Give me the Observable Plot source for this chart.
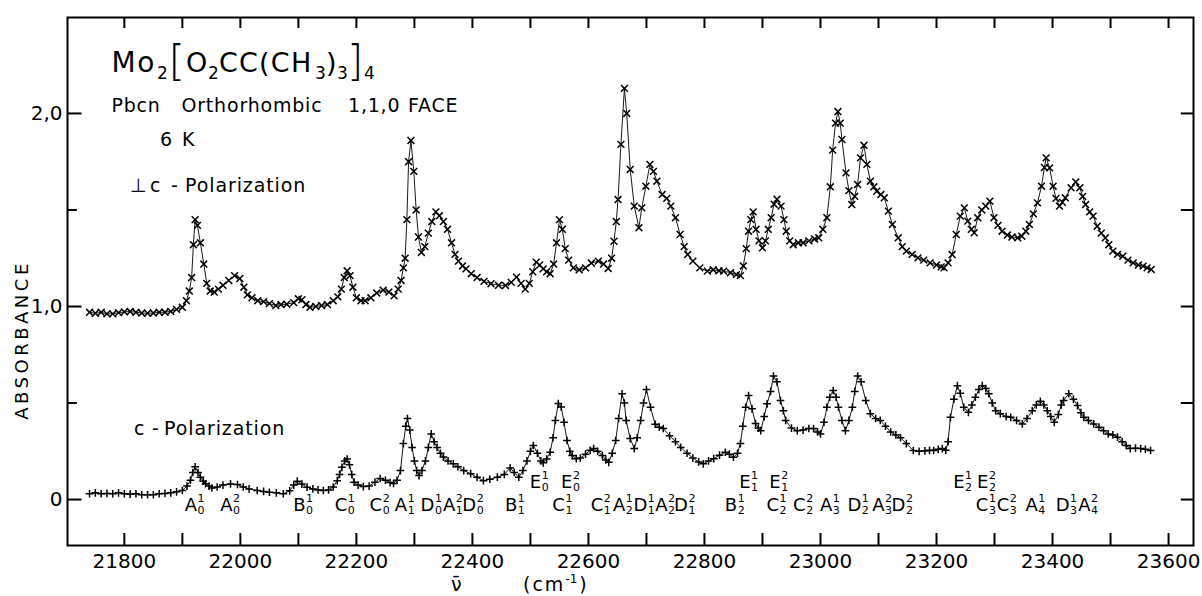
<!DOCTYPE html>
<html><head><meta charset="utf-8">
<script src="https://cdn.jsdelivr.net/npm/d3@7"></script>
<script src="https://cdn.jsdelivr.net/npm/@observablehq/plot@0.6"></script>
<style>html,body{margin:0;padding:0;background:#fff;} svg{display:block}</style>
</head><body><div id="chart"></div>
<script>
// ⊥c-polarization spectrum: [wavenumber cm-1, absorbance]
const perpSpectrum = [
[21740,0.970],[21750,0.965],[21760,0.970],[21770,0.962],[21780,0.962],[21790,0.968],[21800,0.972],[21810,0.974],[21820,0.970],[21830,0.966],
[21840,0.965],[21850,0.966],[21860,0.970],[21870,0.970],[21880,0.975],[21890,0.985],[21900,0.996],[21907,1.030],[21912,1.080],[21916,1.150],
[21919,1.320],[21922,1.450],[21926,1.420],[21931,1.330],[21937,1.220],[21942,1.120],[21948,1.080],[21955,1.075],[21962,1.090],[21970,1.110],
[21980,1.135],[21990,1.160],[21999,1.145],[22006,1.100],[22012,1.060],[22020,1.045],[22030,1.030],[22040,1.025],[22050,1.015],[22061,1.005],
[22070,1.010],[22080,1.012],[22092,1.020],[22100,1.040],[22106,1.035],[22113,1.010],[22120,0.996],[22130,1.000],[22140,1.005],[22150,1.010],
[22160,1.030],[22168,1.050],[22174,1.090],[22179,1.150],[22184,1.185],[22189,1.160],[22194,1.100],[22200,1.045],[22208,1.030],[22215,1.030],
[22225,1.045],[22235,1.070],[22246,1.085],[22256,1.075],[22265,1.055],[22272,1.090],[22277,1.135],[22281,1.200],[22284,1.250],[22287,1.450],
[22290,1.750],[22294,1.860],[22299,1.700],[22303,1.500],[22307,1.360],[22312,1.280],[22318,1.310],[22324,1.380],[22330,1.440],[22337,1.490],
[22343,1.470],[22350,1.440],[22357,1.400],[22364,1.330],[22370,1.270],[22376,1.235],[22383,1.210],[22389,1.195],[22398,1.170],[22408,1.150],
[22420,1.130],[22432,1.118],[22445,1.110],[22457,1.109],[22467,1.125],[22476,1.152],[22484,1.120],[22491,1.090],[22498,1.120],[22504,1.180],
[22510,1.230],[22516,1.215],[22522,1.195],[22528,1.180],[22534,1.170],[22540,1.220],[22545,1.330],[22550,1.450],[22555,1.400],[22560,1.300],
[22566,1.240],[22574,1.200],[22584,1.190],[22595,1.200],[22605,1.225],[22617,1.235],[22626,1.220],[22634,1.197],[22640,1.250],[22644,1.338],
[22648,1.440],[22651,1.554],[22656,1.840],[22662,2.130],[22666,2.000],[22672,1.710],[22679,1.520],[22687,1.408],[22692,1.511],[22699,1.623],
[22706,1.736],[22712,1.700],[22718,1.649],[22727,1.580],[22735,1.560],[22742,1.520],[22750,1.460],[22758,1.373],[22765,1.310],[22771,1.269],
[22780,1.235],[22792,1.200],[22805,1.183],[22815,1.190],[22825,1.185],[22833,1.183],[22845,1.175],[22855,1.165],[22862,1.160],[22867,1.210],
[22872,1.300],[22876,1.390],[22880,1.450],[22884,1.490],[22889,1.400],[22894,1.340],[22900,1.304],[22905,1.340],[22910,1.400],[22915,1.460],
[22920,1.530],[22925,1.556],[22932,1.520],[22937,1.450],[22941,1.390],[22947,1.340],[22953,1.320],[22962,1.330],[22970,1.330],[22980,1.340],
[22990,1.350],[22997,1.356],[23004,1.400],[23011,1.460],[23017,1.620],[23021,1.810],[23026,1.950],[23030,2.010],[23034,1.950],[23037,1.865],
[23044,1.692],[23049,1.600],[23054,1.528],[23059,1.571],[23064,1.632],[23069,1.770],[23075,1.835],[23080,1.736],[23086,1.649],[23092,1.620],
[23097,1.597],[23104,1.580],[23110,1.563],[23117,1.494],[23124,1.425],[23134,1.356],[23141,1.310],[23148,1.287],[23158,1.270],[23168,1.252],
[23178,1.240],[23189,1.226],[23200,1.215],[23208,1.205],[23213,1.200],[23220,1.226],[23227,1.269],[23234,1.373],[23241,1.468],[23248,1.511],
[23254,1.442],[23260,1.400],[23265,1.382],[23271,1.460],[23278,1.500],[23285,1.520],[23292,1.546],[23299,1.460],[23306,1.420],[23313,1.390],
[23322,1.370],[23330,1.360],[23340,1.356],[23347,1.364],[23354,1.390],[23360,1.425],[23367,1.480],[23374,1.537],[23381,1.623],[23386,1.720],
[23389,1.770],[23395,1.718],[23401,1.623],[23406,1.560],[23412,1.520],[23417,1.540],[23422,1.563],[23432,1.615],[23440,1.645],[23447,1.615],
[23452,1.570],[23457,1.528],[23464,1.490],[23470,1.468],[23477,1.416],[23484,1.380],[23491,1.356],[23497,1.320],[23504,1.287],[23512,1.270],
[23521,1.260],[23530,1.240],[23539,1.226],[23548,1.215],[23556,1.209],[23563,1.200],[23570,1.192]
];

// c-polarization spectrum: [wavenumber cm-1, absorbance]
const parSpectrum = [
[21740,0.030],[21750,0.035],[21760,0.030],[21770,0.032],[21780,0.030],[21790,0.035],[21800,0.030],[21810,0.028],[21820,0.030],[21830,0.025],
[21840,0.025],[21850,0.025],[21860,0.030],[21870,0.032],[21880,0.035],[21890,0.040],[21900,0.047],[21908,0.070],[21914,0.100],[21918,0.140],
[21922,0.170],[21927,0.140],[21931,0.116],[21936,0.095],[21940,0.082],[21946,0.070],[21951,0.060],[21960,0.065],[21970,0.075],[21983,0.081],
[21995,0.078],[22005,0.065],[22015,0.055],[22029,0.047],[22040,0.042],[22050,0.038],[22062,0.035],[22074,0.030],[22085,0.045],[22092,0.075],
[22098,0.095],[22106,0.080],[22115,0.064],[22125,0.055],[22134,0.050],[22143,0.047],[22152,0.050],[22160,0.065],[22167,0.098],[22171,0.130],
[22175,0.167],[22180,0.200],[22184,0.210],[22188,0.180],[22192,0.130],[22196,0.090],[22203,0.075],[22212,0.067],[22222,0.070],[22232,0.090],
[22241,0.109],[22250,0.100],[22258,0.088],[22264,0.083],[22270,0.100],[22276,0.150],[22281,0.290],[22285,0.380],[22288,0.420],[22292,0.360],
[22296,0.270],[22300,0.200],[22304,0.150],[22308,0.124],[22313,0.150],[22319,0.200],[22324,0.270],[22329,0.340],[22334,0.300],[22339,0.270],
[22345,0.240],[22350,0.220],[22358,0.200],[22367,0.185],[22375,0.170],[22385,0.150],[22397,0.134],[22408,0.115],[22419,0.098],[22430,0.105],
[22443,0.116],[22455,0.130],[22465,0.164],[22472,0.140],[22480,0.116],[22487,0.150],[22494,0.200],[22500,0.250],[22505,0.280],[22512,0.240],
[22518,0.200],[22522,0.190],[22528,0.210],[22534,0.245],[22539,0.320],[22543,0.410],[22548,0.497],[22553,0.480],[22558,0.400],[22563,0.306],
[22568,0.250],[22572,0.228],[22579,0.212],[22586,0.215],[22595,0.235],[22603,0.255],[22609,0.264],[22616,0.250],[22624,0.228],[22630,0.205],
[22635,0.193],[22641,0.240],[22647,0.306],[22652,0.420],[22658,0.548],[22662,0.500],[22665,0.410],[22672,0.316],[22679,0.264],[22684,0.320],
[22690,0.410],[22695,0.500],[22700,0.570],[22707,0.478],[22715,0.390],[22722,0.375],[22729,0.368],[22740,0.330],[22750,0.300],[22759,0.270],
[22770,0.240],[22780,0.215],[22790,0.195],[22798,0.185],[22807,0.200],[22816,0.212],[22826,0.230],[22836,0.245],[22843,0.235],[22850,0.219],
[22857,0.240],[22862,0.290],[22866,0.380],[22871,0.478],[22876,0.539],[22882,0.470],[22888,0.394],[22893,0.370],[22897,0.357],[22903,0.430],
[22908,0.496],[22914,0.560],[22919,0.640],[22925,0.610],[22931,0.513],[22936,0.460],[22940,0.410],[22950,0.370],[22960,0.357],[22970,0.360],
[22980,0.368],[22988,0.368],[22995,0.350],[23000,0.340],[23006,0.400],[23011,0.478],[23016,0.530],[23022,0.565],[23027,0.530],[23031,0.478],
[23037,0.410],[23043,0.357],[23049,0.410],[23055,0.478],[23059,0.560],[23064,0.640],[23070,0.610],[23078,0.513],[23086,0.445],[23095,0.420],
[23103,0.410],[23112,0.380],[23121,0.350],[23130,0.335],[23138,0.320],[23148,0.290],[23160,0.254],[23170,0.250],[23180,0.252],[23188,0.255],
[23195,0.254],[23203,0.260],[23210,0.264],[23216,0.255],[23220,0.300],[23224,0.426],[23230,0.520],[23236,0.590],[23241,0.550],[23247,0.478],
[23255,0.452],[23261,0.490],[23267,0.530],[23273,0.570],[23279,0.590],[23285,0.575],[23290,0.548],[23296,0.500],[23302,0.460],[23310,0.445],
[23320,0.430],[23328,0.426],[23338,0.410],[23348,0.392],[23356,0.420],[23365,0.460],[23372,0.490],[23379,0.509],[23385,0.490],[23391,0.460],
[23397,0.430],[23403,0.400],[23410,0.440],[23415,0.490],[23419,0.513],[23428,0.548],[23436,0.520],[23443,0.487],[23449,0.450],[23454,0.426],
[23462,0.410],[23471,0.392],[23480,0.375],[23488,0.357],[23496,0.340],[23504,0.335],[23512,0.323],[23520,0.300],[23527,0.280],[23534,0.264],
[23543,0.266],[23552,0.264],[23560,0.260],[23569,0.254]
];

// Axis ticks
const xTickValues = [21800,21900,22000,22100,22200,22300,22400,22500,22600,22700,22800,22900,23000,23100,23200,23300,23400,23500,23600];
const xTickLabels = [21800,22000,22200,22400,22600,22800,23000,23200,23400,23600];
const yTickValues = [0,0.5,1,1.5,2];
const yTickLabels = [0,1,2];

// Band assignment labels
const labelLetter = ["A","A","B","C","C","A","D","A","D","B","C","C","A","D","A","D","B","C","C","A","D","A","D","C","C","A","D","A","E","E","E","E","E","E"];
const labelSup    = ["1","2","1","1","2","1","1","2","2","1","1","2","1","1","2","2","1","1","2","1","1","2","2","1","2","1","1","2","1","2","1","2","1","2"];
const labelSub    = ["0","0","0","0","0","1","0","1","0","1","1","1","2","1","2","1","2","2","2","3","2","3","2","3","3","4","3","4","0","0","1","1","2","2"];
const labelWavenumber = [21922,21983,22109,22181,22241,22284,22331,22367,22403,22474,22556,22622,22660,22698,22733,22768,22853,22925,22971,23017,23067,23107,23143,23286,23322,23371,23426,23462,22515,22569,22876,22928,23245,23286];
const labelRow = ["low","low","low","low","low","low","low","low","low","low","low","low","low","low","low","low","low","low","low","low","low","low","low","low","low","low","low","low","high","high","high","high","high","high"];

const perp = perpSpectrum.map(([v, a]) => ({v, a}));
const par = parSpectrum.map(([v, a]) => ({v, a}));
const labels = labelLetter.map((l, i) => ({letter: l, sup: labelSup[i], sub: labelSub[i], v: labelWavenumber[i], row: labelRow[i]}));
const rowY = {low: -0.03, high: 0.088};

const X0 = 21702, X1 = 23643, Y0 = -0.238, Y1 = 2.497;
const FONT = "DejaVu Sans";

const chart = Plot.plot({
  width: 1202, height: 596,
  marginLeft: 67, marginRight: 9, marginTop: 17, marginBottom: 51,
  style: {fontFamily: FONT, fontSize: "20px", color: "black", background: "white"},
  x: {domain: [X0, X1], ticks: xTickLabels, tickFormat: d => String(d), tickSize: 0, tickPadding: 8, label: null},
  y: {domain: [Y0, Y1], ticks: yTickLabels, tickFormat: d => d === 0 ? "0" : d.toFixed(1).replace(".", ","), tickSize: 0, tickPadding: 5, label: null},
  marks: [
    Plot.frame({stroke: "black", strokeWidth: 2}),
    Plot.ruleX(xTickValues, {x: d => d, y1: Y0, y2: Y0 + 0.062, stroke: "black", strokeWidth: 2}),
    Plot.ruleX(xTickValues, {x: d => d, y1: Y1, y2: Y1 - 0.057, stroke: "black", strokeWidth: 2}),
    Plot.ruleY(yTickValues, {y: d => d, x1: X0, x2: d => X0 + (yTickLabels.includes(d) ? 25 : 17), stroke: "black", strokeWidth: 2}),
    Plot.ruleY(yTickValues, {y: d => d, x1: X1 - 21, x2: X1, stroke: "black", strokeWidth: 2}),
    Plot.line(perp, {x: "v", y: "a", stroke: "black", strokeWidth: 0.9}),
    Plot.dot(perp, {x: "v", y: "a", symbol: "times", r: 3.2, stroke: "black", strokeWidth: 1.5, fill: "none"}),
    Plot.line(par, {x: "v", y: "a", stroke: "black", strokeWidth: 0.9}),
    Plot.dot(par, {x: "v", y: "a", symbol: "plus", r: 2.6, stroke: "black", strokeWidth: 1.5, fill: "none"}),
    Plot.text(labels, {x: "v", y: d => rowY[d.row], text: "letter", textAnchor: "end", dx: 2, fontSize: 18, lineAnchor: "middle", fill: "black"}),
    Plot.text(labels, {x: "v", y: d => rowY[d.row], text: "sup", textAnchor: "start", dx: 2.5, dy: -7, fontSize: 11, lineAnchor: "middle", fill: "black"}),
    Plot.text(labels, {x: "v", y: d => rowY[d.row], text: "sub", textAnchor: "start", dx: 2.5, dy: 5, fontSize: 11, lineAnchor: "middle", fill: "black"})
  ]
});
document.getElementById("chart").appendChild(chart);

// Text annotations (explicit start anchoring; Plot's root svg defaults to middle)
const svg = d3.select(chart);
const ann = svg.append("g").attr("font-family", FONT).attr("fill", "black").attr("text-anchor", "start");

function words(y, size, items, spacing) {
  const t = ann.append("text").attr("y", y).attr("font-size", size).attr("letter-spacing", spacing || 0).attr("text-anchor", "start");
  items.forEach(([x, s, fs, dyv, extra]) => {
    const ts = t.append("tspan").attr("x", x).attr("y", y + (dyv || 0)).text(s);
    if (fs) ts.attr("font-size", fs);
    if (extra) Object.entries(extra).forEach(([k, v]) => ts.attr(k, v));
  });
  return t;
}

// Formula Mo2[O2CC(CH3)3]4
words(72, 28, [
  [111.5, "Mo", 28, 0, {"letter-spacing": 1.5}],
  [157, "2", 17, 7],
  [168.5, "[", 42, 4, {"font-weight": 200}],
  [186, "O", 27, 0],
  [208, "2", 17, 7],
  [219, "CC(CH", 27, 0, {"letter-spacing": 1.2}],
  [315, "3", 17, 7],
  [326, ")", 27, 0],
  [337, "3", 17, 7],
  [347, "]", 42, 4, {"font-weight": 200}],
  [364, "4", 17, 7]
]);
words(111.5, 19, [[111.5, "Pbcn"], [181.5, "Orthorhombic"], [348, "1,1,0"], [408, "FACE"]], 0.8);
words(146, 19, [[160, "6"], [182, "K"]]);
words(192, 19, [[130, "⊥"], [150, "c"], [171, "-"], [185, "Polarization"]], 0.9);
words(435, 19, [[134, "c"], [152, "-"], [164, "Polarization"]], 0.9);

ann.append("text").attr("transform", "translate(28,340) rotate(-90)").attr("text-anchor", "middle")
  .attr("font-size", 18).attr("letter-spacing", 3.5).text("ABSORBANCE");

const xl = ann.append("text").attr("y", 591).attr("font-size", 19).attr("text-anchor", "start");
xl.append("tspan").attr("x", 451).text("ν̄");
xl.append("tspan").attr("x", 523).attr("letter-spacing", 2).text("(cm");
xl.append("tspan").attr("font-size", 12).attr("dy", -8).text("-1");
xl.append("tspan").attr("dy", 8).attr("dx", 2).text(")");
</script>
</body></html>
